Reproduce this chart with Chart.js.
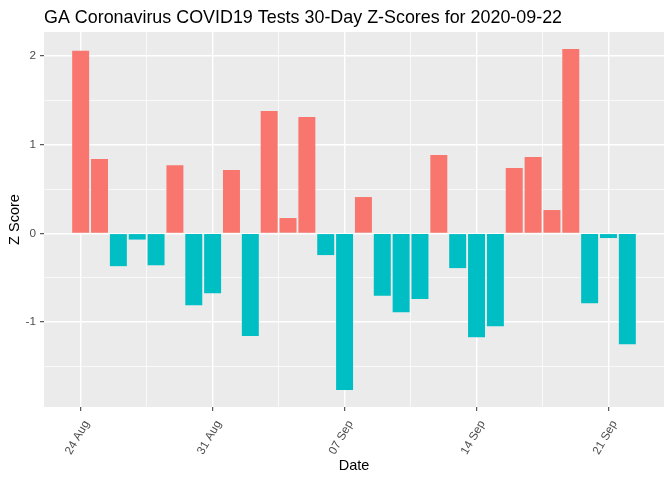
<!DOCTYPE html>
<html>
<head>
<meta charset="utf-8">
<script src="https://cdn.jsdelivr.net/npm/chart.js@4.4.1/dist/chart.umd.min.js"></script>
<style>
  html, body { margin: 0; padding: 0; background: #ffffff; }
  #wrap { width: 672px; height: 480px; position: relative; }
</style>
</head>
<body>
<div id="wrap"><canvas id="c" width="672" height="480"></canvas></div>
<script>
// ---- data ----
const startDate = "2020-08-24";
const dates = [
  "2020-08-24","2020-08-25","2020-08-26","2020-08-27","2020-08-28","2020-08-29","2020-08-30",
  "2020-08-31","2020-09-01","2020-09-02","2020-09-03","2020-09-04","2020-09-05","2020-09-06",
  "2020-09-07","2020-09-08","2020-09-09","2020-09-10","2020-09-11","2020-09-12","2020-09-13",
  "2020-09-14","2020-09-15","2020-09-16","2020-09-17","2020-09-18","2020-09-19","2020-09-20",
  "2020-09-21","2020-09-22"
];
const zScores = [
  2.06, 0.84, -0.37, -0.07, -0.36, 0.77, -0.81,
  -0.675, 0.715, -1.157, 1.38, 0.173, 1.313, -0.245,
  -1.767, 0.41, -0.705, -0.889, -0.742, 0.885, -0.392,
  -1.172, -1.047, 0.738, 0.862, 0.263, 2.08, -0.788,
  -0.053, -1.251
];
const xTickDates = ["2020-08-24","2020-08-31","2020-09-07","2020-09-14","2020-09-21"];
const xTickLabels = ["24 Aug","31 Aug","07 Sep","14 Sep","21 Sep"];
const yMajorTicks = [-1, 0, 1, 2];
const yMinorTicks = [-1.5, -0.5, 0.5, 1.5];

const DAY = 86400000;
function dayIndex(d) { return Math.round((Date.parse(d) - Date.parse(startDate)) / DAY); }

const points = dates.map((d, i) => ({ x: dayIndex(d), y: zScores[i] }));
const xMajor = xTickDates.map(dayIndex);
const xMinor = xMajor.slice(0, -1).map((v, i) => (v + xMajor[i + 1]) / 2);

// ggplot-like expansion (5%)
const barHalf = 0.45;
const xLo = 0 - barHalf, xHi = (dates.length - 1) + barHalf;
const xPad = (xHi - xLo) * 0.05;
const yLo = Math.min(0, ...zScores), yHi = Math.max(0, ...zScores);
const yPad = (yHi - yLo) * 0.05;

const POS = '#F8766D', NEG = '#00BFC4';
const FONT = "'Liberation Sans', Arial, sans-serif";

const titlePlugin = {
  id: 'ggTitle',
  afterDraw(chart) {
    const ctx = chart.ctx;
    ctx.save();
    ctx.fillStyle = '#000000';
    ctx.font = "17.9px " + FONT;
    ctx.textBaseline = 'alphabetic';
    ctx.textAlign = 'left';
    ctx.fillText('GA Coronavirus COVID19 Tests 30-Day Z-Scores for 2020-09-22', chart.chartArea.left, 23);
    ctx.restore();
  }
};

const panelPlugin = {
  id: 'panelBg',
  beforeDraw(chart) {
    const a = chart.chartArea, ctx = chart.ctx;
    ctx.save();
    ctx.fillStyle = '#EBEBEB';
    ctx.fillRect(a.left, a.top, a.right - a.left, a.bottom - a.top);
    ctx.restore();
  }
};

function tickVal(c) { return (c && c.tick) ? c.tick.value : null; }
function isMajorX(v) { return xMajor.indexOf(v) >= 0; }
function isMajorY(v) { return yMajorTicks.indexOf(v) >= 0; }

new Chart(document.getElementById('c'), {
  type: 'bar',
  data: {
    datasets: [{
      data: points,
      backgroundColor: (c) => (c.raw && c.raw.y >= 0) ? POS : NEG,
      borderWidth: 0,
      barPercentage: 0.9,
      categoryPercentage: 1.0
    }]
  },
  options: {
    responsive: false,
    animation: false,
    devicePixelRatio: 1,
    layout: { padding: { top: 32, right: 8, bottom: 0, left: 0 } },
    plugins: {
      legend: { display: false },
      tooltip: { enabled: false },
      title: { display: false }
    },
    scales: {
      x: {
        type: 'linear',
        offset: false,
        min: xLo - xPad,
        max: xHi + xPad,
        afterBuildTicks(scale) {
          scale.ticks = xMajor.concat(xMinor).sort((a, b) => a - b).map(v => ({ value: v }));
        },
        afterFit(scale) { scale.height = 73; },
        border: { display: false },
        grid: {
          offset: false,
          color: '#FFFFFF',
          lineWidth: (c) => isMajorX(tickVal(c)) ? 1.4 : 0.7,
          drawTicks: true,
          tickLength: 4,
          tickWidth: 1,
          tickColor: (c) => isMajorX(tickVal(c)) ? '#333333' : 'rgba(0,0,0,0)'
        },
        ticks: {
          autoSkip: false,
          minRotation: 60,
          maxRotation: 60,
          padding: 7,
          labelOffset: 6,
          color: '#4D4D4D',
          font: { family: FONT, size: 11.7 },
          callback: (v) => { const i = xMajor.indexOf(v); return i >= 0 ? xTickLabels[i] : ''; }
        },
        title: {
          display: true,
          text: 'Date',
          color: '#000000',
          font: { family: FONT, size: 14.5 },
          padding: { top: 0, bottom: 5 }
        }
      },
      y: {
        type: 'linear',
        offset: false,
        min: yLo - yPad,
        max: yHi + yPad,
        afterBuildTicks(scale) {
          scale.ticks = yMajorTicks.concat(yMinorTicks).sort((a, b) => a - b).map(v => ({ value: v }));
        },
        afterFit(scale) { scale.width = 44; },
        border: { display: false },
        grid: {
          offset: false,
          color: '#FFFFFF',
          lineWidth: (c) => isMajorY(tickVal(c)) ? 1.4 : 0.7,
          drawTicks: true,
          tickLength: 4,
          tickWidth: 1,
          tickColor: (c) => isMajorY(tickVal(c)) ? '#333333' : 'rgba(0,0,0,0)'
        },
        ticks: {
          autoSkip: false,
          padding: 4,
          color: '#4D4D4D',
          font: { family: FONT, size: 11.7 },
          callback: (v) => isMajorY(v) ? String(v) : ''
        },
        title: {
          display: true,
          text: 'Z Score',
          color: '#000000',
          font: { family: FONT, size: 14.5 },
          padding: { top: 6, bottom: 0 }
        }
      }
    }
  },
  plugins: [panelPlugin, titlePlugin]
});
</script>
</body>
</html>
